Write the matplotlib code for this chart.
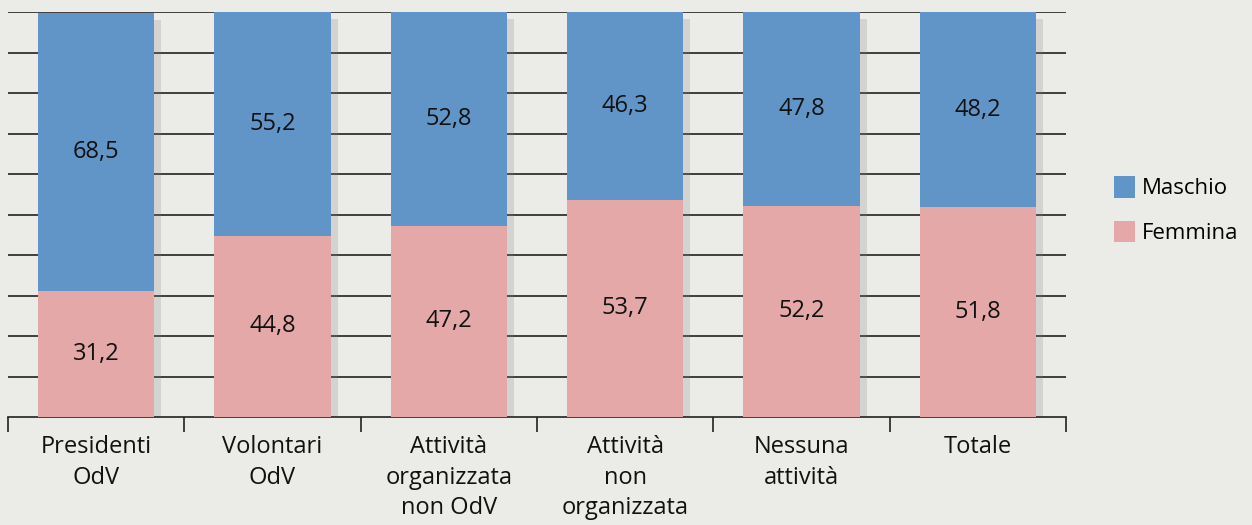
import matplotlib.pyplot as plt
import matplotlib.patheffects as pe
import numpy as np

categories = ["Presidenti\nOdV", "Volontari\nOdV", "Attività\norganizzata\nnon OdV",
              "Attività\nnon\norganizzata", "Nessuna\nattività", "Totale"]
femmina = [31.2, 44.8, 47.2, 53.7, 52.2, 51.8]
maschio = [68.5, 55.2, 52.8, 46.3, 47.8, 48.2]

bg = "#ebece8"
blue = "#6195c8"
pink = "#e3a8a7"

plt.rcParams['font.family'] = ['Open Sans', 'DejaVu Sans']

fig = plt.figure(figsize=(12.52, 5.25), dpi=100, facecolor=bg)
ax = fig.add_axes([8 / 1252, 108 / 525, 1058 / 1252, 405 / 525])
ax.set_facecolor(bg)

x = np.arange(len(categories))
totals = [f + m for f, m in zip(femmina, maschio)]
# soft shadow behind each full bar
shadow = [pe.SimplePatchShadow(offset=(5, -5), shadow_rgbFace="#808080", alpha=0.22), pe.Normal()]
ax.bar(x, totals, width=0.66, color=bg, zorder=2, path_effects=shadow)
b1 = ax.bar(x, femmina, width=0.66, color=pink, label="Femmina", zorder=3)
b2 = ax.bar(x, maschio, width=0.66, bottom=femmina, color=blue, label="Maschio", zorder=3)

for i in range(len(x)):
    ax.text(x[i], femmina[i] / 2, f"{femmina[i]:.1f}".replace(".", ","), ha="center", va="center",
            fontsize=17, color="#111111", zorder=4)
    ax.text(x[i], femmina[i] + maschio[i] / 2, f"{maschio[i]:.1f}".replace(".", ","), ha="center",
            va="center", fontsize=17, color="#111111", zorder=4)

ax.set_xlim(-0.5, len(categories) - 0.5)
ax.set_ylim(0, 100)
ax.set_yticks(np.arange(10, 101, 10))
ax.yaxis.grid(True, color="#222222", linewidth=1.2, zorder=1)
ax.tick_params(axis="y", left=False, labelleft=False)
for s in ["left", "right", "top"]:
    ax.spines[s].set_visible(False)
ax.spines["bottom"].set_color("#222222")
ax.spines["bottom"].set_linewidth(1.2)

ax.set_xticks(np.arange(-0.5, len(categories), 1))
ax.set_xticklabels([])
ax.tick_params(axis="x", length=11, width=1.2, color="#222222")
for i, c in enumerate(categories):
    ax.text(x[i], -4.5, c, ha="center", va="top", fontsize=17, color="#111111", linespacing=1.35)

fig.legend(handles=[b2, b1], labels=["Maschio", "Femmina"], loc="center left",
           bbox_to_anchor=(1114 / 1252, 1 - 210 / 525), frameon=False, fontsize=16,
           borderpad=0, borderaxespad=0,
           handlelength=0.95, handleheight=1.1, handletextpad=0.3, labelspacing=0.95)

fig.savefig("out.png", dpi=100, facecolor=bg)
